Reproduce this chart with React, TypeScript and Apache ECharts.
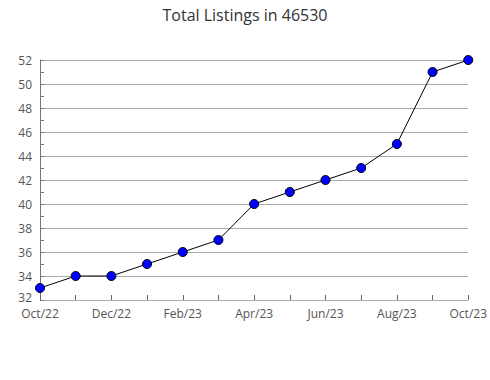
import React, { useEffect, useRef } from "react";
import * as echarts from "echarts";

const months = ["Oct/22","Nov/22","Dec/22","Jan/23","Feb/23","Mar/23","Apr/23","May/23","Jun/23","Jul/23","Aug/23","Sep/23","Oct/23"];
const listings = [33, 34, 34, 35, 36, 37, 40, 41, 42, 43, 45, 51, 52];
const yMin = 32;
const yMax = 52;
const yStep = 2;
const title = "Total Listings in 46530";

export default function App() {
  const ref = useRef<HTMLDivElement>(null);
  useEffect(() => {
    const chart = echarts.init(ref.current!, null, { renderer: "svg" });
    chart.setOption({
      animation: false,
      title: {
        text: title,
        left: "center",
        top: 2,
        textStyle: { fontFamily: "Open Sans", fontSize: 16, fontWeight: "normal", color: "#333" },
      },
      grid: { left: 40, right: 19, top: 60, bottom: 80, containLabel: false },
      xAxis: {
        type: "category",
        data: months,
        boundaryGap: false,
        axisLine: { show: false },
        axisTick: { show: true, inside: true, length: 5, interval: 0, lineStyle: { color: "#666" } },
        axisLabel: { interval: 1, fontFamily: "Open Sans", fontSize: 12, lineHeight: 12, color: "#555", margin: 7 },
        splitLine: { show: false },
      },
      yAxis: {
        type: "value",
        min: yMin,
        max: yMax,
        interval: yStep,
        axisLine: { show: true, lineStyle: { color: "#777" } },
        axisTick: { show: true, inside: true, length: 4, lineStyle: { color: "#777" } },
        minorTick: { show: true, splitNumber: 2, length: 4, lineStyle: { color: "#777" } },
        axisLabel: {
          fontFamily: "Open Sans",
          fontSize: 12,
          lineHeight: 12,
          color: "#555",
          margin: 8,
          formatter: (v: number) => (v === yMin ? `{low|${v}}` : `${v}`),
          rich: {
            low: { fontFamily: "Open Sans", fontSize: 12, lineHeight: 12, color: "#555", padding: [0, 0, 5, 0] },
          },
        },
        splitLine: { show: true, lineStyle: { color: "#aaa", width: 1 } },
      },
      series: [
        {
          type: "line",
          data: listings,
          symbol: "circle",
          symbolSize: 9,
          lineStyle: { color: "#000", width: 1 },
          itemStyle: { color: "#0000ff", borderColor: "#000", borderWidth: 1 },
        },
      ],
    });
    return () => chart.dispose();
  }, []);
  return <div ref={ref} style={{ width: 490, height: 380, position: "absolute", left: 0, top: 0 }} />;
}
